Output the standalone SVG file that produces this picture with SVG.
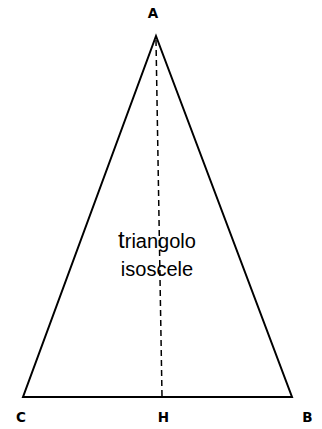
<svg xmlns="http://www.w3.org/2000/svg" width="322" height="429" viewBox="0 0 322 429">
<style>
.lbl{font-family:"DejaVu Sans","Liberation Sans",Arial,sans-serif;font-weight:bold;font-size:13.5px;fill:#000;text-anchor:middle}
.txt{font-family:"Liberation Sans",Arial,sans-serif;font-size:20px;fill:#000;text-anchor:middle}
</style>
<rect width="322" height="429" fill="#fff"/>
<g id="triangle">
<polygon points="156,36 23,397 292,397" fill="none" stroke="#000" stroke-width="2"/>
</g>
<g id="connectors">
<line x1="156" y1="40" x2="162" y2="396" stroke="#000" stroke-width="1.5" stroke-dasharray="6,4"/>
</g>
<g id="labels">
<text class="lbl" x="153" y="18">A</text>
<text class="lbl" x="21" y="422">C</text>
<text class="lbl" x="163.5" y="422">H</text>
<text class="lbl" x="307.5" y="422">B</text>
</g>
<g id="label-text">
<text class="txt" x="157" y="248"><tspan font-size="24">t</tspan>riangolo</text>
<text class="txt" x="157" y="276">isoscele</text>
</g>
</svg>
